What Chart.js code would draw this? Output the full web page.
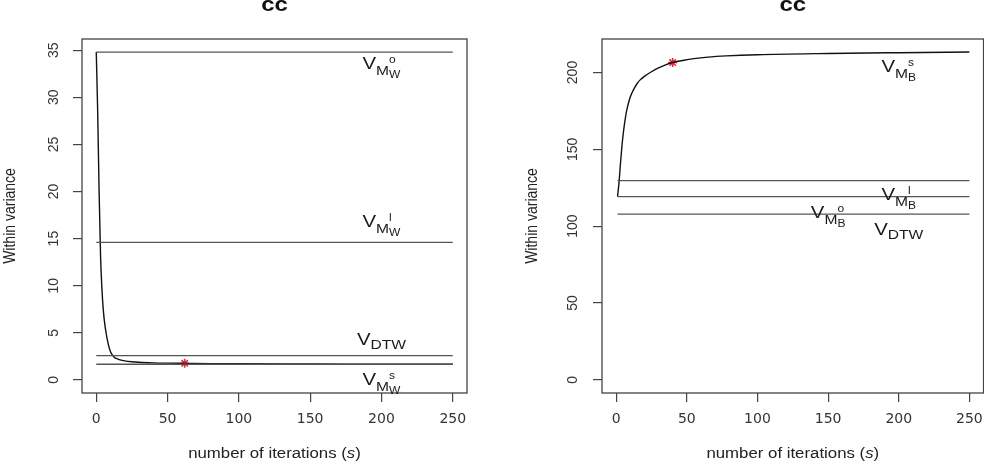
<!DOCTYPE html>
<html><head><meta charset="utf-8">
<script src="https://cdn.jsdelivr.net/npm/chart.js@4/dist/chart.umd.min.js"></script>
<style>
html,body{margin:0;padding:0;background:#fff;overflow:hidden;width:984px;height:465px;}
#wrap{position:relative;width:984px;height:465px;overflow:hidden;background:#fff;}
#c1{position:absolute;left:0;top:0;}
#c2{position:absolute;left:492px;top:0;}
</style></head><body>
<div id="wrap"><canvas id="c1" width="492" height="465"></canvas><canvas id="c2" width="500" height="465"></canvas></div>
<script>
// ---------- data ----------
const xTicks = [0, 50, 100, 150, 200, 250];
const iterEnd = 250;

// left panel: within variance vs iterations
const leftIter   = [0, 1, 2, 3, 4, 5, 6, 7, 8, 9, 10, 11, 12, 13, 14, 16, 18, 20, 25, 30, 40, 50, 62, 80, 100, 150, 200, 250];
const leftValues = [34.8, 28.5, 20, 13.2, 9.6, 7.3, 5.9, 4.9, 4.1, 3.45, 3.0, 2.7, 2.5, 2.37, 2.28, 2.16, 2.08, 2.02, 1.93, 1.87, 1.81, 1.78, 1.76, 1.73, 1.71, 1.69, 1.67, 1.66];
const leftLineValues = [34.8, 14.6, 2.58, 1.66];   // V_Mw^o, V_Mw^l, V_DTW, V_Mw^s
const leftLineStart = 0;
const leftStar = [62, 1.76];
const leftYTicks = [0, 5, 10, 15, 20, 25, 30, 35];
const leftYRange = [-1.39, 36.19];

// right panel
const rightIter   = [1, 2, 3, 4, 5, 6, 7, 8, 9, 10, 11, 12, 13, 15, 17, 20, 25, 30, 35, 40, 48, 55, 65, 78, 100, 150, 200, 250];
const rightValues = [119.3, 128, 140, 151, 160, 167, 173, 177.5, 181, 184, 186.3, 188.2, 190, 193, 195.2, 197.5, 200.5, 203, 205, 206.5, 208, 209, 210, 210.8, 211.6, 212.4, 212.9, 213.3];
const rightLineValues = [129.7, 119.3, 107.8];
const rightLineStart = 1;
const rightStar = [40, 206.5];
const rightYTicks = [0, 50, 100, 150, 200];
const rightYRange = [-8.54, 221.8];

const xRange = [-10, 260];

// line annotations (text(x, y, label) in data units)
const leftLabels = [
  {x: 200, y: 33.05, main: 'V', sub: 'M', sup: 'o', subsub: 'W'},
  {x: 200, y: 16.26, main: 'V', sub: 'M', sup: 'l', subsub: 'W'},
  {x: 200, y: 3.71,  main: 'V', sub: 'DTW'},
  {x: 200, y: -0.53, main: 'V', sub: 'M', sup: 's', subsub: 'W'}
];
const rightLabels = [
  {x: 200, y: 200.6, main: 'V', sub: 'M', sup: 's', subsub: 'B'},
  {x: 200, y: 117.1, main: 'V', sub: 'M', sup: 'l', subsub: 'B'},
  {x: 150, y: 105.2, main: 'V', sub: 'M', sup: 'o', subsub: 'B'},
  {x: 200, y: 94.3,  main: 'V', sub: 'DTW'}
];

const titleText = 'cc';
const yTitle = 'Within variance';
const xTitleParts = ['number of iterations (', 's', ')'];

// ---------- drawing ----------
const FONT = '"Liberation Sans", Arial, sans-serif';
const SX = 1.2; // horizontal stretch of the reference rendering
Chart.defaults.font.family = FONT;

function pts(xs, ys) { return xs.map((x, i) => ({x: x, y: ys[i]})); }

function drawLabel(ctx, xs, ys, l) {
  ctx.save();
  ctx.fillStyle = '#1a1a1a';
  ctx.font = '17px ' + FONT; const wV = ctx.measureText(l.main).width;
  ctx.font = '13px ' + FONT; const wSub = ctx.measureText(l.sub).width;
  ctx.font = '10px ' + FONT;
  const wS = Math.max(l.sup ? ctx.measureText(l.sup).width : 0, l.subsub ? ctx.measureText(l.subsub).width : 0);
  const total = (wV + wSub + wS) * SX;
  const px = xs.getPixelForValue(l.x), py = ys.getPixelForValue(l.y);
  ctx.translate(px - total / 2, py);
  ctx.scale(SX, 1);
  ctx.textAlign = 'left'; ctx.textBaseline = 'alphabetic';
  ctx.font = '17px ' + FONT; ctx.fillText(l.main, 0, 0);
  ctx.font = '13px ' + FONT; ctx.fillText(l.sub, wV, l.sup || l.subsub ? 6 : 4);
  ctx.font = '10px ' + FONT;
  if (l.sup) ctx.fillText(l.sup, wV + wSub, -6);
  if (l.subsub) ctx.fillText(l.subsub, wV + wSub, 9);
  ctx.restore();
}

function makeDeco(labels, yTitleX) {
  return {
    id: 'deco',
    afterDraw(chart) {
      const ctx = chart.ctx, a = chart.chartArea;
      const xs = chart.scales.x, ys = chart.scales.y;
      ctx.save();
      // box
      ctx.strokeStyle = '#444'; ctx.lineWidth = 1.3;
      ctx.strokeRect(a.left, a.top, a.right - a.left, a.bottom - a.top);
      const cx = (a.left + a.right) / 2;
      // title
      ctx.fillStyle = '#111';
      ctx.save(); ctx.translate(cx, 10.5); ctx.scale(SX, 1);
      ctx.font = 'bold 20px ' + FONT; ctx.textAlign = 'center'; ctx.textBaseline = 'alphabetic';
      ctx.fillText(titleText, 0, 0); ctx.restore();
      // x title with italic s
      ctx.save(); ctx.fillStyle = '#222';
      ctx.font = '14px ' + FONT; const w0 = ctx.measureText(xTitleParts[0]).width;
      const w2 = ctx.measureText(xTitleParts[2]).width;
      ctx.font = 'italic 14px ' + FONT; const w1 = ctx.measureText(xTitleParts[1]).width;
      const tot = w0 + w1 + w2;
      ctx.translate(cx, 458); ctx.scale(SX, 1);
      ctx.textAlign = 'left'; ctx.textBaseline = 'alphabetic';
      ctx.font = '14px ' + FONT; ctx.fillText(xTitleParts[0], -tot / 2, 0);
      ctx.font = 'italic 14px ' + FONT; ctx.fillText(xTitleParts[1], -tot / 2 + w0, 0);
      ctx.font = '14px ' + FONT; ctx.fillText(xTitleParts[2], -tot / 2 + w0 + w1, 0);
      ctx.restore();
      // y title
      ctx.save(); ctx.fillStyle = '#222';
      ctx.translate(yTitleX, (a.top + a.bottom) / 2); ctx.scale(SX, 1); ctx.rotate(-Math.PI / 2);
      ctx.font = '14px ' + FONT; ctx.textAlign = 'center'; ctx.textBaseline = 'middle';
      ctx.fillText(yTitle, 0, 0); ctx.restore();
      // line labels
      labels.forEach(l => drawLabel(ctx, xs, ys, l));
      ctx.restore();
    }
  };
}

function makeChart(id, cfg) {
  const lineSets = cfg.lines.map(v => ({
    data: [{x: cfg.lineStart, y: v}, {x: iterEnd, y: v}],
    showLine: true, borderColor: '#555', borderWidth: 1.3, pointRadius: 0, fill: false
  }));
  return new Chart(document.getElementById(id), {
    type: 'scatter',
    data: {
      datasets: [
        ...lineSets,
        {data: pts(cfg.iter, cfg.values), showLine: true, borderColor: '#111', borderWidth: 1.4,
         pointRadius: 0, fill: false, cubicInterpolationMode: 'monotone'},
        {data: [{x: cfg.star[0], y: cfg.star[1]}], pointStyle: 'star', pointRadius: 4.5,
         borderColor: '#e8283c', backgroundColor: '#e8283c', borderWidth: 1.6}
      ]
    },
    options: {
      responsive: false, animation: false, devicePixelRatio: 1,
      layout: {padding: {top: 39, right: cfg.padRight, bottom: 0, left: 0}},
      plugins: {legend: {display: false}, tooltip: {enabled: false}, title: {display: false}},
      scales: {
        x: {
          type: 'linear', min: xRange[0], max: xRange[1],
          afterBuildTicks: s => { s.ticks = xTicks.map(v => ({value: v})); },
          afterFit: s => { s.height = 72; },
          grid: {display: true, drawOnChartArea: false, drawTicks: true, tickLength: 9, color: '#444', lineWidth: 1.2},
          border: {display: false},
          ticks: {autoSkip: false, maxRotation: 0, minRotation: 0, padding: 9, color: '#333',
                  font: {family: '"DejaVu Sans"', size: 14}}
        },
        y: {
          type: 'linear', min: cfg.yRange[0], max: cfg.yRange[1],
          afterBuildTicks: s => { s.ticks = cfg.yTicks.map(v => ({value: v})); },
          afterFit: s => { s.width = cfg.yWidth; },
          grid: {display: true, drawOnChartArea: false, drawTicks: true, tickLength: 9, color: '#444', lineWidth: 1.2},
          border: {display: false},
          ticks: {autoSkip: false, minRotation: 90, maxRotation: 90, crossAlign: 'center',
                  padding: cfg.tickPad, color: '#333', font: {family: FONT, size: 14}}
        }
      }
    },
    plugins: [makeDeco(cfg.labels, cfg.yTitleX)]
  });
}

makeChart('c1', {iter: leftIter, values: leftValues, lines: leftLineValues, lineStart: leftLineStart,
  star: leftStar, yTicks: leftYTicks, yRange: leftYRange, labels: leftLabels,
  padRight: 25, yWidth: 82, tickPad: 11, yTitleX: 10});
makeChart('c2', {iter: rightIter, values: rightValues, lines: rightLineValues, lineStart: rightLineStart,
  star: rightStar, yTicks: rightYTicks, yRange: rightYRange, labels: rightLabels,
  padRight: 4, yWidth: 110, tickPad: 8, yTitleX: 40});
</script>
</body></html>
